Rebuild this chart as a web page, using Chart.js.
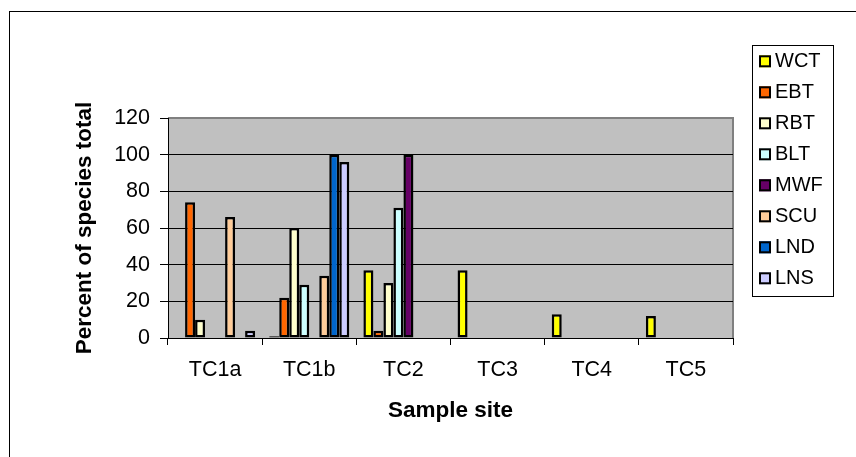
<!DOCTYPE html>
<html>
<head>
<meta charset="utf-8">
<title>Percent of species total by sample site</title>
<script src="https://cdn.jsdelivr.net/npm/chart.js@4/dist/chart.umd.min.js"></script>
<style>
  html, body { margin: 0; padding: 0; background: #fff; }
  #wrap { width: 856px; height: 457px; }
</style>
</head>
<body>
<div id="wrap"><canvas id="c" width="856" height="457"></canvas></div>
<script>
// Sample sites and species codes
const sites = ['TC1a', 'TC1b', 'TC2', 'TC3', 'TC4', 'TC5'];
const species = ['WCT', 'EBT', 'RBT', 'BLT', 'MWF', 'SCU', 'LND', 'LNS'];

// Percent of species total at each site
const wct = [0, 1, 37, 37, 13, 12];
const ebt = [74, 22, 4, 0, 0, 0];
const rbt = [10, 60, 30, 0, 0, 0];
const blt = [0, 29, 71, 0, 0, 0];
const mwf = [0, 0, 100, 0, 0, 0];
const scu = [66, 34, 0, 0, 0, 0];
const lnd = [0, 100, 0, 0, 0, 0];
const lns = [4, 96, 0, 0, 0, 0];

const yTicks = [0, 20, 40, 60, 80, 100, 120];

const seriesValues = [wct, ebt, rbt, blt, mwf, scu, lnd, lns];
const seriesColors = ['#ffff00', '#ff6600', '#ffffcc', '#ccffff', '#660066', '#ffcc99', '#0066cc', '#ccccff'];

const FONT = '"Liberation Sans", Arial, Helvetica, sans-serif';

// Grey plot area, its grey top/right edge and the outer chart frame
const plotFrame = {
  id: 'plotFrame',
  beforeDraw(chart) {
    const { ctx, chartArea: a } = chart;
    ctx.save();
    ctx.fillStyle = '#fff';
    ctx.fillRect(0, 0, chart.width, chart.height);
    ctx.strokeStyle = '#000';
    ctx.lineWidth = 1;
    ctx.strokeRect(9.5, 11.5, chart.width + 20, chart.height + 20);
    ctx.fillStyle = '#c0c0c0';
    ctx.fillRect(a.left, a.top, a.right - a.left, a.bottom - a.top);
    ctx.strokeStyle = '#808080';
    ctx.lineWidth = 2;
    ctx.beginPath();
    ctx.moveTo(a.left, a.top);
    ctx.lineTo(a.right, a.top);
    ctx.lineTo(a.right, a.bottom);
    ctx.stroke();
    ctx.restore();
  }
};

// Boxed legend on the right, one row per dataset
const boxLegend = {
  id: 'boxLegend',
  afterDraw(chart) {
    const ctx = chart.ctx;
    const x0 = 752.5, y0 = 45.5, w = 81, h = 251;
    ctx.save();
    ctx.fillStyle = '#fff';
    ctx.fillRect(x0, y0, w, h);
    ctx.strokeStyle = '#000';
    ctx.lineWidth = 1;
    ctx.strokeRect(x0, y0, w, h);
    ctx.font = '20px ' + FONT;
    ctx.textBaseline = 'middle';
    ctx.textAlign = 'left';
    chart.data.datasets.forEach((d, i) => {
      const cy = 61.3 + i * 31;
      ctx.fillStyle = d.backgroundColor;
      ctx.fillRect(759, cy - 6, 12, 12);
      ctx.strokeStyle = '#000';
      ctx.lineWidth = 2;
      ctx.strokeRect(760, cy - 5, 10, 10);
      ctx.fillStyle = '#000';
      ctx.fillText(d.label, 775, cy);
    });
    ctx.restore();
  }
};

new Chart(document.getElementById('c'), {
  type: 'bar',
  data: {
    labels: sites,
    datasets: species.map((name, i) => ({
      label: name,
      data: seriesValues[i],
      backgroundColor: seriesColors[i],
      borderColor: '#000',
      borderWidth: 2.5,
      borderSkipped: false,
      inflateAmount: 0,
      barPercentage: 1,
      categoryPercentage: 0.85
    }))
  },
  options: {
    responsive: false,
    animation: false,
    devicePixelRatio: 1,
    layout: { padding: { left: 0, top: 118, right: 123, bottom: 0 } },
    plugins: {
      legend: { display: false },
      tooltip: { enabled: false }
    },
    scales: {
      x: {
        grid: { display: true, drawOnChartArea: false, drawTicks: true, tickLength: 7, color: '#000', offset: true },
        border: { display: true, color: '#000', width: 1 },
        ticks: { color: '#000', font: { family: FONT, size: 21.5 }, padding: 12, maxRotation: 0 },
        title: {
          display: true, text: 'Sample site', color: '#000',
          font: { family: FONT, size: 22.5, weight: 'bold' },
          padding: { top: 0, bottom: 32.5 }
        },
        afterFit(s) { s.height = 119; }
      },
      y: {
        min: 0,
        max: 120,
        afterBuildTicks(s) { s.ticks = yTicks.map(v => ({ value: v })); },
        ticks: { color: '#000', font: { family: FONT, size: 21.5 }, padding: 10 },
        grid: {
          color: c => (c.tick && c.tick.value === 120 ? '#808080' : '#000'),
          tickColor: '#000',
          tickLength: 8,
          lineWidth: 1
        },
        border: { display: true, color: '#000', width: 1 },
        title: {
          display: true, text: 'Percent of species total', color: '#000',
          font: { family: FONT, size: 22.5, weight: 'bold' },
          padding: { top: 71, bottom: 0 }
        },
        afterFit(s) { s.width = 168; }
      }
    }
  },
  plugins: [plotFrame, boxLegend]
});
</script>
</body>
</html>
